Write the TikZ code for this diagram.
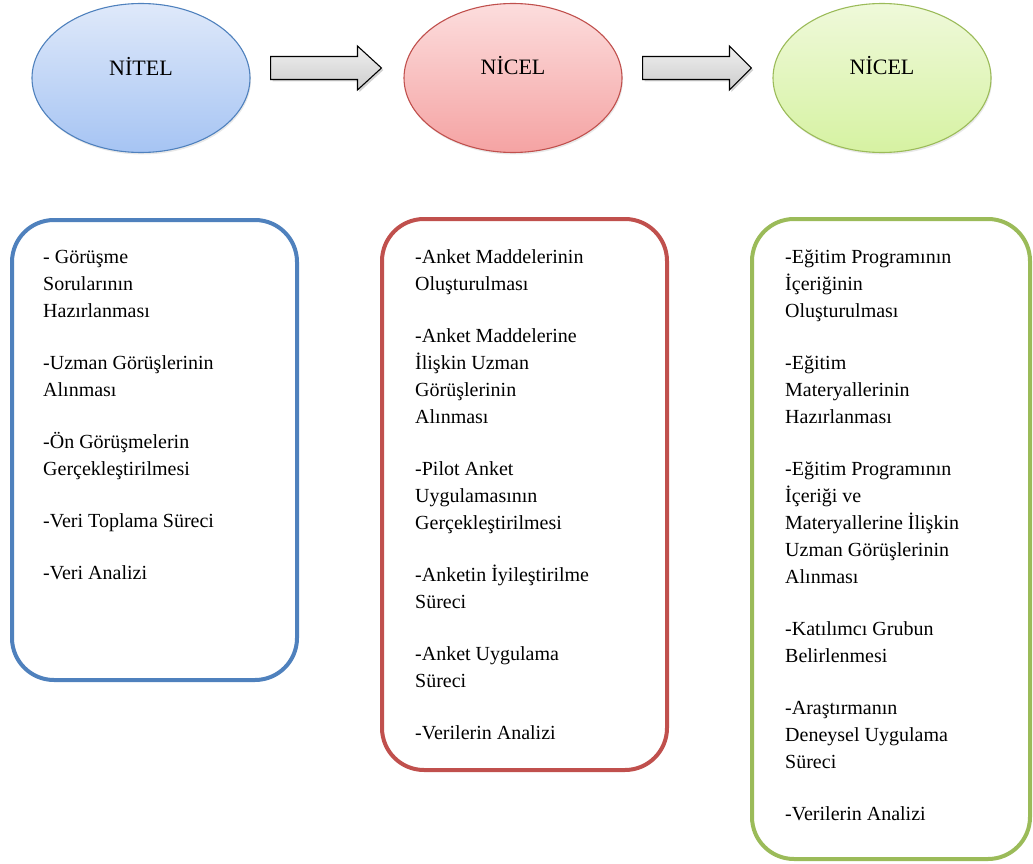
\documentclass[tikz,border=0pt]{standalone}
\usepackage{fontspec}
\setmainfont{Liberation Serif}
\usetikzlibrary{shapes.geometric,calc,shadows}
\definecolor{blueL}{HTML}{4F81BD}
\definecolor{redL}{HTML}{C0504D}
\definecolor{greenL}{HTML}{9BBB59}
\definecolor{blueT}{HTML}{DFE9FA}
\definecolor{blueB}{HTML}{A6C4F3}
\definecolor{redT}{HTML}{FCDDDD}
\definecolor{redB}{HTML}{F5A3A3}
\definecolor{greenT}{HTML}{EFF9DA}
\definecolor{greenB}{HTML}{D6F2A2}
\begin{document}
\begin{tikzpicture}[x=1pt,y=-1pt,
  phase/.style n args={3}{ellipse, draw=#1, line width=1.1pt, top color=#2, bottom color=#3,
    minimum width=218pt, minimum height=149pt, inner sep=0pt,
    drop shadow={shadow xshift=1pt, shadow yshift=-2pt, opacity=0.18}},
  phaselabel/.style={font=\fontsize{22}{26}\selectfont, inner sep=0pt},
  stagebox/.style={draw=#1, line width=4pt, rounded corners=42pt, fill=white,
    anchor=north west, inner sep=0pt},
  itemtext/.style={anchor=north west, align=left, inner sep=0pt,
    font=\fontsize{20}{27}\selectfont},
  blockarrow/.style={draw=black, line width=1.1pt, line join=miter,
    top color=gray!12, bottom color=gray!40,
    drop shadow={shadow xshift=2pt, shadow yshift=-2pt, opacity=0.35}}
]
\useasboundingbox (0,0) rectangle (1033,864);

% phases
\node[phase={blueL}{blueT}{blueB}]   (e1) at (141,78) {};
\node[phase={redL}{redT}{redB}]      (e2) at (513,78) {};
\node[phase={greenL}{greenT}{greenB}] (e3) at (882,78) {};
\node[phaselabel] (l1) at ($(e1.center)+(0,-12)$) {NİTEL};
\node[phaselabel] (l2) at ($(e2.center)+(0,-12)$) {NİCEL};
\node[phaselabel] (l3) at ($(e3.center)+(0,-12)$) {NİCEL};

% block arrows
\coordinate (a1s) at ($(e1.east)+(20,-10)$);
\coordinate (a1e) at ($(e2.west)+(-22,-10)$);
\coordinate (a2s) at ($(e2.east)+(20,-10)$);
\coordinate (a2e) at ($(e3.west)+(-21,-10)$);
\draw[blockarrow] ($(a1s)+(0,-11.5)$) -- ($(a1e)+(-24,-11.5)$) -- ($(a1e)+(-24,-22)$)
  -- (a1e) -- ($(a1e)+(-24,22)$) -- ($(a1e)+(-24,11.5)$) -- ($(a1s)+(0,11.5)$) -- cycle;
\draw[blockarrow] ($(a2s)+(0,-11.5)$) -- ($(a2e)+(-22,-11.5)$) -- ($(a2e)+(-22,-22)$)
  -- (a2e) -- ($(a2e)+(-22,22)$) -- ($(a2e)+(-22,11.5)$) -- ($(a2s)+(0,11.5)$) -- cycle;

% stage boxes
\node[stagebox=blueL,  minimum width=285pt, minimum height=460pt] (b1) at (10,218) {};
\node[stagebox=redL,   minimum width=285pt, minimum height=551pt] (b2) at (380,217) {};
\node[stagebox=greenL, minimum width=278pt, minimum height=640pt] (b3) at (750,217) {};

\node[itemtext] (t1) at ($(b1.north west)+(33,26.1)$) {%
\strut- Görüşme\\ Sorularının\\ Hazırlanması\\[25pt]
-Uzman Görüşlerinin\\ Alınması\\[25pt]
-Ön Görüşmelerin\\ Gerçekleştirilmesi\\[25pt]
-Veri Toplama Süreci\\[25pt]
-Veri Analizi};

\node[itemtext] (t2) at ($(b2.north west)+(35,27.1)$) {%
\strut-Anket Maddelerinin\\ Oluşturulması\\[25pt]
-Anket Maddelerine\\ İlişkin Uzman\\ Görüşlerinin\\ Alınması\\[25pt]
-Pilot Anket\\ Uygulamasının\\ Gerçekleştirilmesi\\[25pt]
-Anketin İyileştirilme\\ Süreci\\[25pt]
-Anket Uygulama\\ Süreci\\[25pt]
-Verilerin Analizi};

\node[itemtext] (t3) at ($(b3.north west)+(35,27.1)$) {%
\strut-Eğitim Programının\\ İçeriğinin\\ Oluşturulması\\[25pt]
-Eğitim\\ Materyallerinin\\ Hazırlanması\\[25pt]
-Eğitim Programının\\ İçeriği ve\\ Materyallerine İlişkin\\ Uzman Görüşlerinin\\ Alınması\\[25pt]
-Katılımcı Grubun\\ Belirlenmesi\\[25pt]
-Araştırmanın\\ Deneysel Uygulama\\ Süreci\\[25pt]
-Verilerin Analizi};
\end{tikzpicture}
\end{document}
